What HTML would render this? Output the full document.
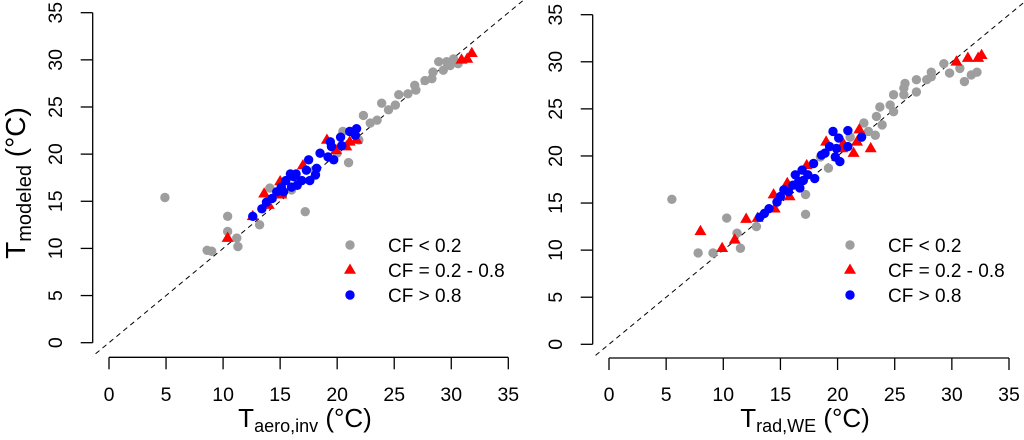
<!DOCTYPE html>
<html><head><meta charset="utf-8"><style>
html,body{margin:0;padding:0;background:#fff;}
svg{display:block;font-family:"Liberation Sans",Arial,sans-serif;}
</style></head><body>
<svg id="chart" width="1024" height="440" viewBox="0 0 1024 440" xmlns="http://www.w3.org/2000/svg"></svg>
<script>
// Left panel data (x = T_aero,inv, y = T_modeled)
const leftGrayX=[4.9,10.4,10.4,11.2,11.3,8.6,9.0,13.2,17.2,21,22.3,22.9,23.5,23.9,24.5,25.4,25.1,26.2,26.9,26.8,27.7,28.3,28.4,28.9,29.3,29.6,29.9,30.6,30.2,20.5,14.1,21.9,18,16,20];
const leftGrayY=[15.4,13.4,11.8,11.1,10.2,9.8,9.7,12.5,13.9,19.1,24.1,23.3,23.6,25.4,24.7,26.3,25.2,26.4,26.8,27.3,27.8,28,28.7,29.8,28.9,29.8,29.4,29.6,30.1,22.4,16.4,21.5,18.3,16.2,20.1];
const leftRedX=[10.4,12.6,13.6,14,15,15.1,17,19.1,20.8,21.1,21.7,30.9,31.4,31.8,19.9];
const leftRedY=[11.1,13.4,15.8,14.6,17.1,15.7,18.8,21.5,20.8,21.3,21.5,30,30.1,30.7,20.4];
const leftBlueX=[12.6,13.4,13.8,14.3,14.7,15.1,15.5,15.9,16.2,16.5,16.9,17.3,17.5,18.1,18.2,18.5,19.2,19.5,19.4,19.7,20.3,20.4,21.1,21.7,21.6,16,15.3,17.6,16.4];
const leftBlueY=[13.4,14.2,14.9,15.3,16,16.5,17.2,17.9,17.6,16.7,17.2,18.3,19.4,17.8,18.5,20.1,19.7,20.8,21.3,19.4,21.8,20.9,22.4,22.7,22,16.5,16,17.2,17.9];
// Right panel data (x = T_rad,WE, y = T_modeled)
const rightGrayX=[5.5,10.3,11.2,11.5,7.8,9.1,12.9,17.2,17.2,19.2,22.3,22.7,23.3,23.4,23.9,23.7,24.6,24.9,24.9,25.8,25.9,25.8,26.9,26.9,27.8,28.2,28.2,29.3,29.8,31.1,31.7,32.2,30.7,21.1,18.5];
const rightGrayY=[15.4,13.4,11.8,10.2,9.7,9.7,12.5,15.9,13.8,18.7,23.5,22.6,22.2,24.2,23.3,25.2,25.4,26.5,24.7,26.5,27.7,27.2,28.1,26.8,28.1,28.9,28.4,29.8,28.8,27.9,28.6,28.9,29.3,22,19.9];
const rightRedX=[8,9.9,11,12,13,14.4,14.5,15.6,15.8,17.3,19,20.4,20.5,21.4,21.7,21.9,22.9,30.4,31.4,32.3,32.6];
const rightRedY=[12,10.2,11.1,13.3,13.4,15.9,14.4,17.1,15.7,19,21.5,20.8,21.3,20.3,21.5,22.8,20.8,30,30.4,30.4,30.7];
const rightBlueX=[13.2,13.6,14,14.7,15,15.3,15.7,16.1,16.3,16.6,16.7,16.9,17,17.4,17.9,18,18.6,18.9,19.3,19.6,19.8,20.1,20.2,20.9,20.9,22.1,19.9];
const rightBlueY=[13.5,13.9,14.4,15.1,15.7,16.4,16.2,16.9,18,17.3,16.6,18.5,17.4,18,19.2,17.6,20.1,20.3,21,22.6,19.9,21.9,19.4,22.7,21,22,20.8];
const tickValues=[0,5,10,15,20,25,30,35];
const legendLabels=["CF < 0.2","CF = 0.2 - 0.8","CF > 0.8"];

const NS="http://www.w3.org/2000/svg";
const svg=document.getElementById('chart');
function mk(tag,attrs,parent){const e=document.createElementNS(NS,tag);for(const k in attrs)e.setAttribute(k,attrs[k]);(parent||svg).appendChild(e);return e;}
const R=4.7;
function tri(x,y){return `${x},${y-6.5} ${x-6},${y+3.8} ${x+6},${y+3.8}`;}

function panel(p,gx,gy,rx,ry,bx,by){
  const g=mk('g',{});
  
  
  const sx=v=>p.x0+(p.x35-p.x0)*v/35;
  const sy=v=>p.y0+(p.y35-p.y0)*v/35;
  const cid='clip-'+p.name;
  const cp=mk('clipPath',{id:cid},g);
  mk('rect',{x:p.yAxisX,y:0,width:p.clipR-p.yAxisX,height:p.xAxisY-0},cp);
  const ya=mk('g',{},g);
  
  
  mk('line',{x1:p.yAxisX,y1:sy(0),x2:p.yAxisX,y2:sy(35),stroke:'#000','stroke-width':1.3},ya);
  tickValues.forEach(t=>{
    mk('line',{x1:p.yAxisX-12,y1:sy(t),x2:p.yAxisX,y2:sy(t),stroke:'#000','stroke-width':1.3},ya);
    const tx=mk('text',{x:p.yLabX,y:sy(t),'font-size':19.5,'text-anchor':'middle','dominant-baseline':'central',transform:`rotate(-90 ${p.yLabX} ${sy(t)})`,fill:'#000'},ya);
    tx.textContent=t;
    
    
  });
  const xa=mk('g',{},g);
  
  
  mk('line',{x1:sx(0),y1:p.xAxisY,x2:sx(35),y2:p.xAxisY,stroke:'#000','stroke-width':1.3},xa);
  tickValues.forEach(t=>{
    mk('line',{x1:sx(t),y1:p.xAxisY,x2:sx(t),y2:p.xAxisY+12,stroke:'#000','stroke-width':1.3},xa);
    const tx=mk('text',{x:sx(t),y:401,'font-size':19.5,'text-anchor':'middle',fill:'#000'},xa);
    tx.textContent=t;
    
    
  });
  const dl=mk('line',{x1:sx(-3),y1:sy(-3),x2:sx(40),y2:sy(40),stroke:'#000','stroke-width':1,'stroke-dasharray':'5,4','clip-path':`url(#${cid})`},g);
  
  
  const pts=mk('g',{},g);
  
  
  gx.forEach((v,i)=>{const c=mk('circle',{cx:sx(v),cy:sy(gy[i]),r:R,fill:'#9e9e9e'},pts);
    
    });
  rx.forEach((v,i)=>{const t=mk('polygon',{points:tri(sx(v),sy(ry[i])),fill:'#ff0000'},pts);
    
    });
  bx.forEach((v,i)=>{const c=mk('circle',{cx:sx(v),cy:sy(by[i]),r:R,fill:'#0000ff'},pts);
    
    });
  const lg=mk('g',{},g);
  
  
  const ly=[245,270,295];
  mk('circle',{cx:p.legX,cy:ly[0],r:R,fill:'#9e9e9e'},lg);
  mk('polygon',{points:tri(p.legX,ly[1]),fill:'#ff0000'},lg);
  mk('circle',{cx:p.legX,cy:ly[2],r:R,fill:'#0000ff'},lg);
  legendLabels.forEach((s,i)=>{const t=mk('text',{x:p.legX+38,y:ly[i]+7,'font-size':19,fill:'#000'},lg);t.textContent=s;
    
    });
  const xt=mk('text',{x:p.xTitleX,y:427,'font-size':26,'text-anchor':'middle',fill:'#000'},g);
  xt.innerHTML=`T<tspan font-size="18" dy="5">${p.sub}</tspan><tspan dy="-5"> (°C)</tspan>`;
  
  
}
panel({name:'left-panel',x0:109,x35:508.3,y0:342.7,y35:12.7,yAxisX:92.7,xAxisY:357.3,clipR:524,yLabX:56,legX:350,xTitleX:305,sub:'aero,inv'},leftGrayX,leftGrayY,leftRedX,leftRedY,leftBlueX,leftBlueY);
panel({name:'right-panel',x0:609,x35:1009,y0:344.3,y35:14.7,yAxisX:592.7,xAxisY:358,clipR:1024,yLabX:556,legX:850,xTitleX:805,sub:'rad,WE'},rightGrayX,rightGrayY,rightRedX,rightRedY,rightBlueX,rightBlueY);
const yt=mk('text',{x:0,y:0,'font-size':28,'text-anchor':'middle',fill:'#000',transform:'translate(25 183) rotate(-90)'});
yt.innerHTML='T<tspan font-size="20" dy="6">modeled</tspan><tspan dy="-6"> (°C)</tspan>';


</script>
</body></html>
